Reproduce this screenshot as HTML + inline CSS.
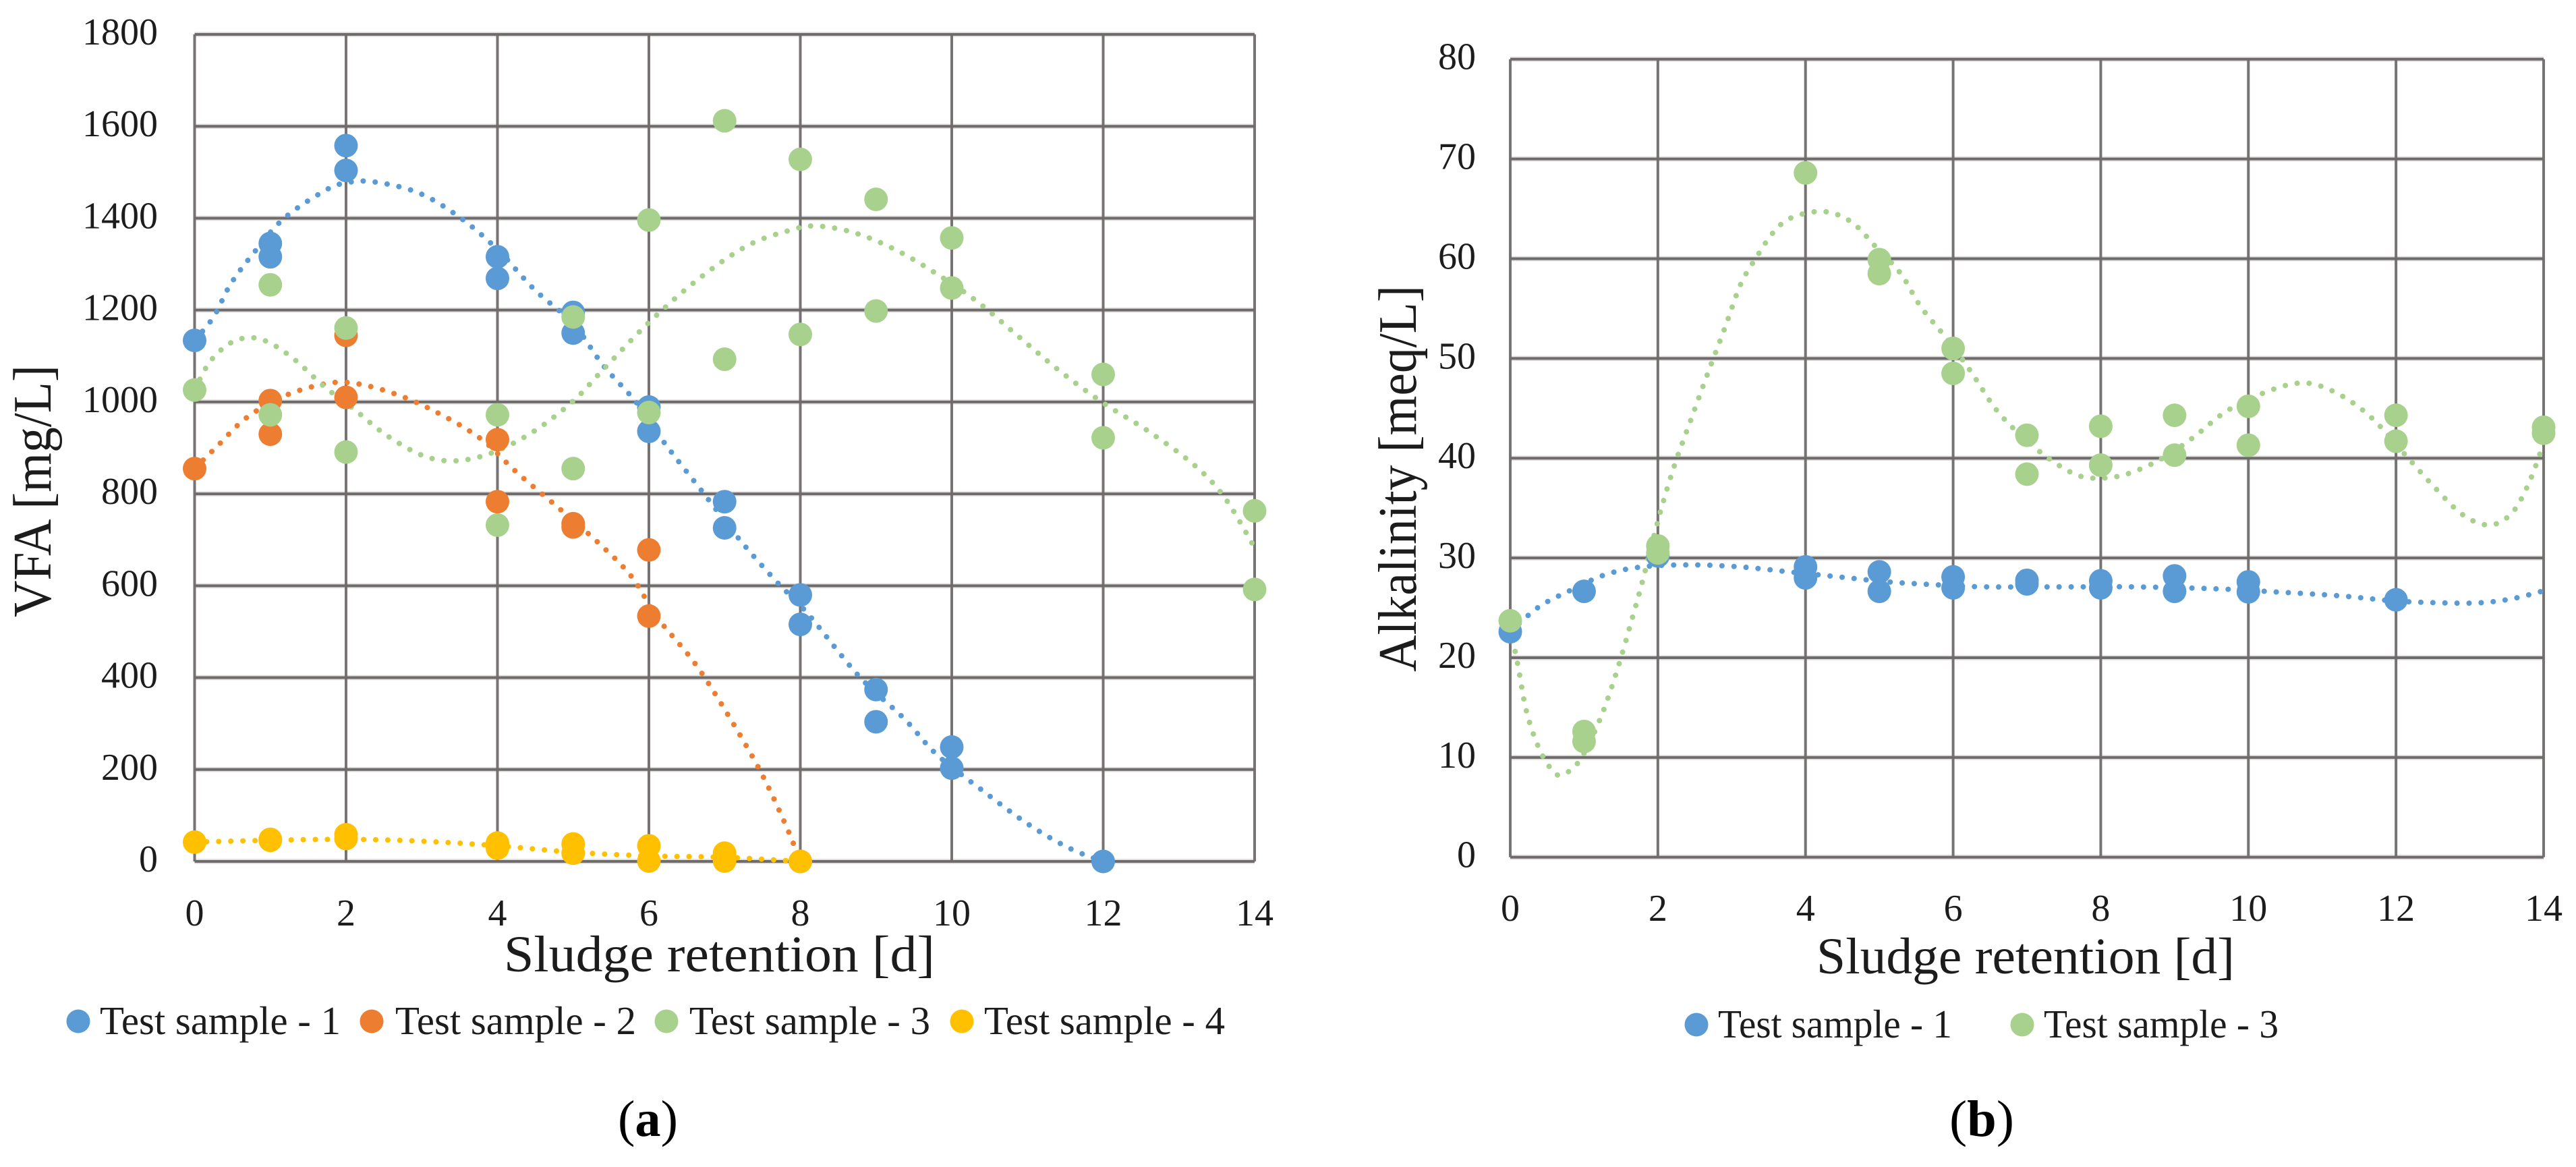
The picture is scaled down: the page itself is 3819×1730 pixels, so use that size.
<!DOCTYPE html>
<html lang="en">
<head>
<meta charset="utf-8">
<title>VFA and alkalinity versus sludge retention</title>
<style>
html,body{margin:0;padding:0;background:#fff;}
svg{display:block;}
text{font-family:"Liberation Serif",serif;fill:#1c1c1c;}
.tick{font-size:56px;}
.axis-title{font-size:76px;}
.legend-text{font-size:59px;}
.caption{font-size:76px;fill:#000;}
</style>
</head>
<body>
<svg id="figure" xmlns="http://www.w3.org/2000/svg" width="3819" height="1730" viewBox="0 0 3819 1730">
  <rect x="0" y="0" width="3819" height="1730" fill="#ffffff"/>
  <g id="chart-a"></g>
  <g id="chart-b"></g>

  <text class="axis-title" x="747" y="1440" textLength="639" lengthAdjust="spacingAndGlyphs">Sludge retention [d]</text>
  <text class="axis-title" transform="translate(75,915) rotate(-90)" x="0" y="0" textLength="374" lengthAdjust="spacingAndGlyphs" style="font-size:80px">VFA [mg/L]</text>

  <g>
    <circle cx="116" cy="1514" r="17.5" fill="#5B9BD5"/>
    <text class="legend-text" x="148" y="1533" textLength="357" lengthAdjust="spacingAndGlyphs">Test sample - 1</text>
    <circle cx="551" cy="1514" r="17.5" fill="#ED7D31"/>
    <text class="legend-text" x="586" y="1533" textLength="357" lengthAdjust="spacingAndGlyphs">Test sample - 2</text>
    <circle cx="988" cy="1514" r="17.5" fill="#A9D18E"/>
    <text class="legend-text" x="1022" y="1533" textLength="357" lengthAdjust="spacingAndGlyphs">Test sample - 3</text>
    <circle cx="1426" cy="1514" r="17.5" fill="#FFC000"/>
    <text class="legend-text" x="1459" y="1533" textLength="357" lengthAdjust="spacingAndGlyphs">Test sample - 4</text>
  </g>

  <text class="caption" x="916" y="1684" textLength="89" lengthAdjust="spacingAndGlyphs">(<tspan font-weight="bold">a</tspan>)</text>

  <text class="axis-title" x="2693" y="1443" textLength="620" lengthAdjust="spacingAndGlyphs">Sludge retention [d]</text>
  <text class="axis-title" transform="translate(2099,996) rotate(-90)" x="0" y="0" textLength="573" lengthAdjust="spacingAndGlyphs" style="font-size:80px">Alkalinity [meq/L]</text>

  <g>
    <circle cx="2515" cy="1519" r="17.5" fill="#5B9BD5"/>
    <text class="legend-text" x="2547" y="1538" textLength="347" lengthAdjust="spacingAndGlyphs">Test sample - 1</text>
    <circle cx="2998" cy="1519" r="17.5" fill="#A9D18E"/>
    <text class="legend-text" x="3030" y="1538" textLength="348" lengthAdjust="spacingAndGlyphs">Test sample - 3</text>
  </g>

  <text class="caption" x="2890" y="1684" textLength="96" lengthAdjust="spacingAndGlyphs">(<tspan font-weight="bold">b</tspan>)</text>
</svg>

<script>
// ---------- shared axis categories ----------
const xTickLabels = [0, 2, 4, 6, 8, 10, 12, 14];
const vfaTickLabels = [0, 200, 400, 600, 800, 1000, 1200, 1400, 1600, 1800];
const alkTickLabels = [0, 10, 20, 30, 40, 50, 60, 70, 80];

// ---------- chart (a) VFA: measured points ----------
const vfaS1Days = [0, 1, 1, 2, 2, 4, 4, 5, 5, 6, 6, 7, 7, 8, 8, 9, 9, 10, 10, 12];
const vfaS1Values = [1134, 1345, 1316, 1558, 1504, 1316, 1269, 1195, 1150, 989, 936, 783, 726, 580, 516, 374, 304, 249, 203, 0];
const vfaS2Days = [0, 1, 1, 2, 2, 4, 4, 5, 5, 6, 6, 8];
const vfaS2Values = [855, 1003, 930, 1145, 1010, 918, 783, 735, 728, 678, 534, 0];
const vfaS3Days = [0, 1, 1, 2, 2, 4, 4, 5, 5, 6, 6, 7, 7, 8, 8, 9, 9, 10, 10, 12, 12, 14, 14];
const vfaS3Values = [1026, 1255, 972, 1161, 891, 972, 732, 1185, 855, 1396, 977, 1612, 1093, 1528, 1147, 1441, 1198, 1357, 1248, 1060, 922, 763, 592];
const vfaS4Days = [0, 1, 1, 2, 2, 4, 4, 5, 5, 6, 6, 7, 7, 8];
const vfaS4Values = [42, 48, 46, 58, 50, 40, 29, 38, 18, 34, 1, 18, 1, 0];

// ---------- chart (a) VFA: trend curves ----------
const vfaT1Days = [0, 0.25, 0.47, 0.76, 1.17, 1.71, 2, 2.37, 2.96, 3.5, 4, 4.48, 5, 5.4, 5.84, 6.2, 6.7, 7.2, 7.68, 8.1, 8.77, 9.37, 9.8, 10.4, 11, 11.55, 12];
const vfaT1Values = [1134, 1185, 1255, 1320, 1398, 1459, 1477, 1479, 1455, 1402, 1332, 1246, 1170, 1079, 998, 912, 806, 700, 610, 539, 404, 311, 233, 155, 82, 29, 0];
const vfaT2Days = [0, 0.3, 0.68, 1.17, 1.71, 2.1, 2.64, 3.18, 3.78, 4.26, 4.81, 5.35, 5.78, 6.11, 6.6, 7.03, 7.47, 7.8, 8];
const vfaT2Values = [855, 904, 965, 1012, 1039, 1041, 1018, 979, 920, 846, 769, 691, 618, 531, 433, 323, 197, 82, 0];
const vfaT3Days = [0, 0.2, 0.47, 0.74, 1, 1.33, 1.71, 2.1, 2.53, 3.02, 3.45, 3.94, 4.48, 5, 5.4, 6, 6.65, 7.3, 7.85, 8.2, 8.7, 9.25, 9.8, 10.34, 10.9, 11.43, 12, 12.6, 13.2, 13.6, 14];
const vfaT3Values = [1026, 1087, 1128, 1140, 1128, 1091, 1034, 985, 928, 883, 872, 890, 936, 1002, 1071, 1173, 1267, 1340, 1373, 1383, 1369, 1332, 1279, 1218, 1140, 1067, 998, 936, 863, 793, 683];
const vfaT4Days = [0, 1, 2, 3, 4, 5, 6, 7, 8];
const vfaT4Values = [42, 46, 48, 44, 34, 20, 12, 9, 0];

// ---------- chart (b) alkalinity: measured points ----------
const alkS1Days = [0, 1, 2, 4, 4, 5, 5, 6, 6, 7, 7, 8, 8, 9, 9, 10, 10, 12];
const alkS1Values = [22.6, 26.65, 30.2, 29.1, 28, 28.6, 26.65, 28.1, 27, 27.75, 27.4, 27.7, 27, 28.2, 26.65, 27.6, 26.6, 25.8];
const alkS3Days = [0, 1, 1, 2, 2, 4, 5, 5, 6, 6, 7, 7, 8, 8, 9, 9, 10, 10, 12, 12, 14, 14];
const alkS3Values = [23.7, 12.6, 11.6, 31.2, 30.5, 68.6, 59.9, 58.5, 51, 48.5, 42.3, 38.4, 43.2, 39.3, 44.3, 40.3, 45.2, 41.3, 44.3, 41.7, 43.1, 42.5];

// ---------- chart (b) alkalinity: trend curves ----------
const alkT1Days = [0, 0.39, 0.83, 1.28, 1.78, 2.45, 3.12, 3.78, 4.45, 5.12, 5.79, 6.45, 7.57, 8.46, 9.57, 10.35, 11.24, 11.96, 12.58, 13.13, 13.57, 14];
const alkT1Values = [22.6, 25.1, 26.8, 28.3, 29.1, 29.3, 29.1, 28.6, 28.1, 27.6, 27.3, 27.1, 27.1, 27.1, 26.9, 26.6, 26.2, 25.7, 25.5, 25.5, 25.9, 26.7];
const alkT3Days = [0, 0.11, 0.22, 0.39, 0.58, 0.72, 0.95, 1.22, 1.45, 1.67, 1.8, 2.03, 2.23, 2.45, 2.67, 2.9, 3.12, 3.34, 3.56, 3.78, 4.12, 4.4, 4.67, 4.95, 5.29, 5.56, 5.9, 6.23, 6.57, 6.9, 7.29, 7.68, 8, 8.35, 8.79, 9.24, 9.68, 10.13, 10.57, 10.9, 11.3, 11.69, 12.13, 12.52, 12.91, 13.27, 13.57, 13.8, 14];
const alkT3Values = [23, 19, 14.6, 10.9, 8.6, 8.3, 9.8, 13.9, 18.8, 24.4, 27.9, 34.5, 39.4, 43.9, 48.4, 52.9, 57.4, 60.2, 62.6, 64, 64.7, 64.5, 63.4, 61.2, 58.5, 55.2, 52.1, 48.8, 45, 42.4, 40, 38.3, 38, 38.4, 39.8, 42, 44.6, 46.3, 47.4, 47.4, 46.1, 43.9, 40.3, 37.1, 34.3, 33.3, 34.5, 37.5, 41.5];

// ---------- colours ----------
const blue = '#5B9BD5', orange = '#ED7D31', green = '#A9D18E', yellow = '#FFC000';
const SVGNS = 'http://www.w3.org/2000/svg';

function make(parent, tag, attrs) {
  const el = document.createElementNS(SVGNS, tag);
  for (const k in attrs) el.setAttribute(k, attrs[k]);
  parent.appendChild(el);
  return el;
}

function curvePath(days, values, sx, sy) {
  const p = days.map((d, i) => [sx(d), sy(values[i])]);
  let out = 'M' + p[0][0].toFixed(1) + ' ' + p[0][1].toFixed(1);
  for (let i = 0; i < p.length - 1; i++) {
    const a = p[Math.max(i - 1, 0)], b = p[i], c = p[i + 1], e = p[Math.min(i + 2, p.length - 1)];
    const c1x = b[0] + (c[0] - a[0]) / 6, c1y = b[1] + (c[1] - a[1]) / 6;
    const c2x = c[0] - (e[0] - b[0]) / 6, c2y = c[1] - (e[1] - b[1]) / 6;
    out += 'C' + c1x.toFixed(1) + ' ' + c1y.toFixed(1) + ' ' + c2x.toFixed(1) + ' ' + c2y.toFixed(1) + ' ' + c[0].toFixed(1) + ' ' + c[1].toFixed(1);
  }
  return out;
}

function drawAxes(g, sx, sy, yLabels, yLabelRight, xLabelBase, left, right, top, bottom, baseOffset) {
  yLabels.forEach(v => {
    const halo = make(g, 'line', {x1: left, x2: right, y1: sy(v), y2: sy(v), stroke: '#dedede', 'stroke-width': 7.5});
    
    
  });
  xTickLabels.forEach(v => {
    const grid = make(g, 'line', {x1: sx(v), x2: sx(v), y1: top, y2: bottom, stroke: '#777373', 'stroke-width': 4});
    
    
    const label = make(g, 'text', {x: sx(v), y: xLabelBase, 'text-anchor': 'middle', class: 'tick'});
    
    
    label.textContent = v;
  });
  yLabels.forEach(v => {
    const grid = make(g, 'line', {x1: left, x2: right, y1: sy(v), y2: sy(v), stroke: '#706b6b', 'stroke-width': 4});
    
    
    const label = make(g, 'text', {x: yLabelRight, y: sy(v) + baseOffset, 'text-anchor': 'end', class: 'tick'});
    
    
    label.textContent = v;
  });
}

function drawTrend(g, days, values, sx, sy, color) {
  const path = make(g, 'path', {d: curvePath(days, values, sx, sy), fill: 'none', stroke: color, 'stroke-width': 8, 'stroke-linecap': 'round', 'stroke-dasharray': '0.1 17.8'});
  
  
}

function drawPoints(g, days, values, sx, sy, color) {
  days.forEach((d, i) => {
    const dot = make(g, 'circle', {cx: sx(d), cy: sy(values[i]), r: 17.5, fill: color});
    
    
  });
}

// ---------- chart (a) ----------
const ax = d => 288.5 + d * (1860 - 288.5) / 14;
const ay = v => 1277 - v * (1277 - 51) / 1800;
const chartA = document.getElementById('chart-a');
drawAxes(chartA, ax, ay, vfaTickLabels, 234, 1372, 288.5, 1860, 51, 1277, 15);
drawTrend(chartA, vfaT1Days, vfaT1Values, ax, ay, blue);
drawTrend(chartA, vfaT2Days, vfaT2Values, ax, ay, orange);
drawTrend(chartA, vfaT3Days, vfaT3Values, ax, ay, green);
drawTrend(chartA, vfaT4Days, vfaT4Values, ax, ay, yellow);
drawPoints(chartA, vfaS1Days, vfaS1Values, ax, ay, blue);
drawPoints(chartA, vfaS2Days, vfaS2Values, ax, ay, orange);
drawPoints(chartA, vfaS3Days, vfaS3Values, ax, ay, green);
drawPoints(chartA, vfaS4Days, vfaS4Values, ax, ay, yellow);

// ---------- chart (b) ----------
const bx = d => 2239 + d * (3771 - 2239) / 14;
const by = v => 1270.7 - v * (1270.7 - 87.7) / 80;
const chartB = document.getElementById('chart-b');
drawAxes(chartB, bx, by, alkTickLabels, 2188, 1365, 2239, 3771, 87.7, 1270.7, 15);
drawTrend(chartB, alkT1Days, alkT1Values, bx, by, blue);
drawTrend(chartB, alkT3Days, alkT3Values, bx, by, green);
drawPoints(chartB, alkS1Days, alkS1Values, bx, by, blue);
drawPoints(chartB, alkS3Days, alkS3Values, bx, by, green);
</script>
</body>
</html>
